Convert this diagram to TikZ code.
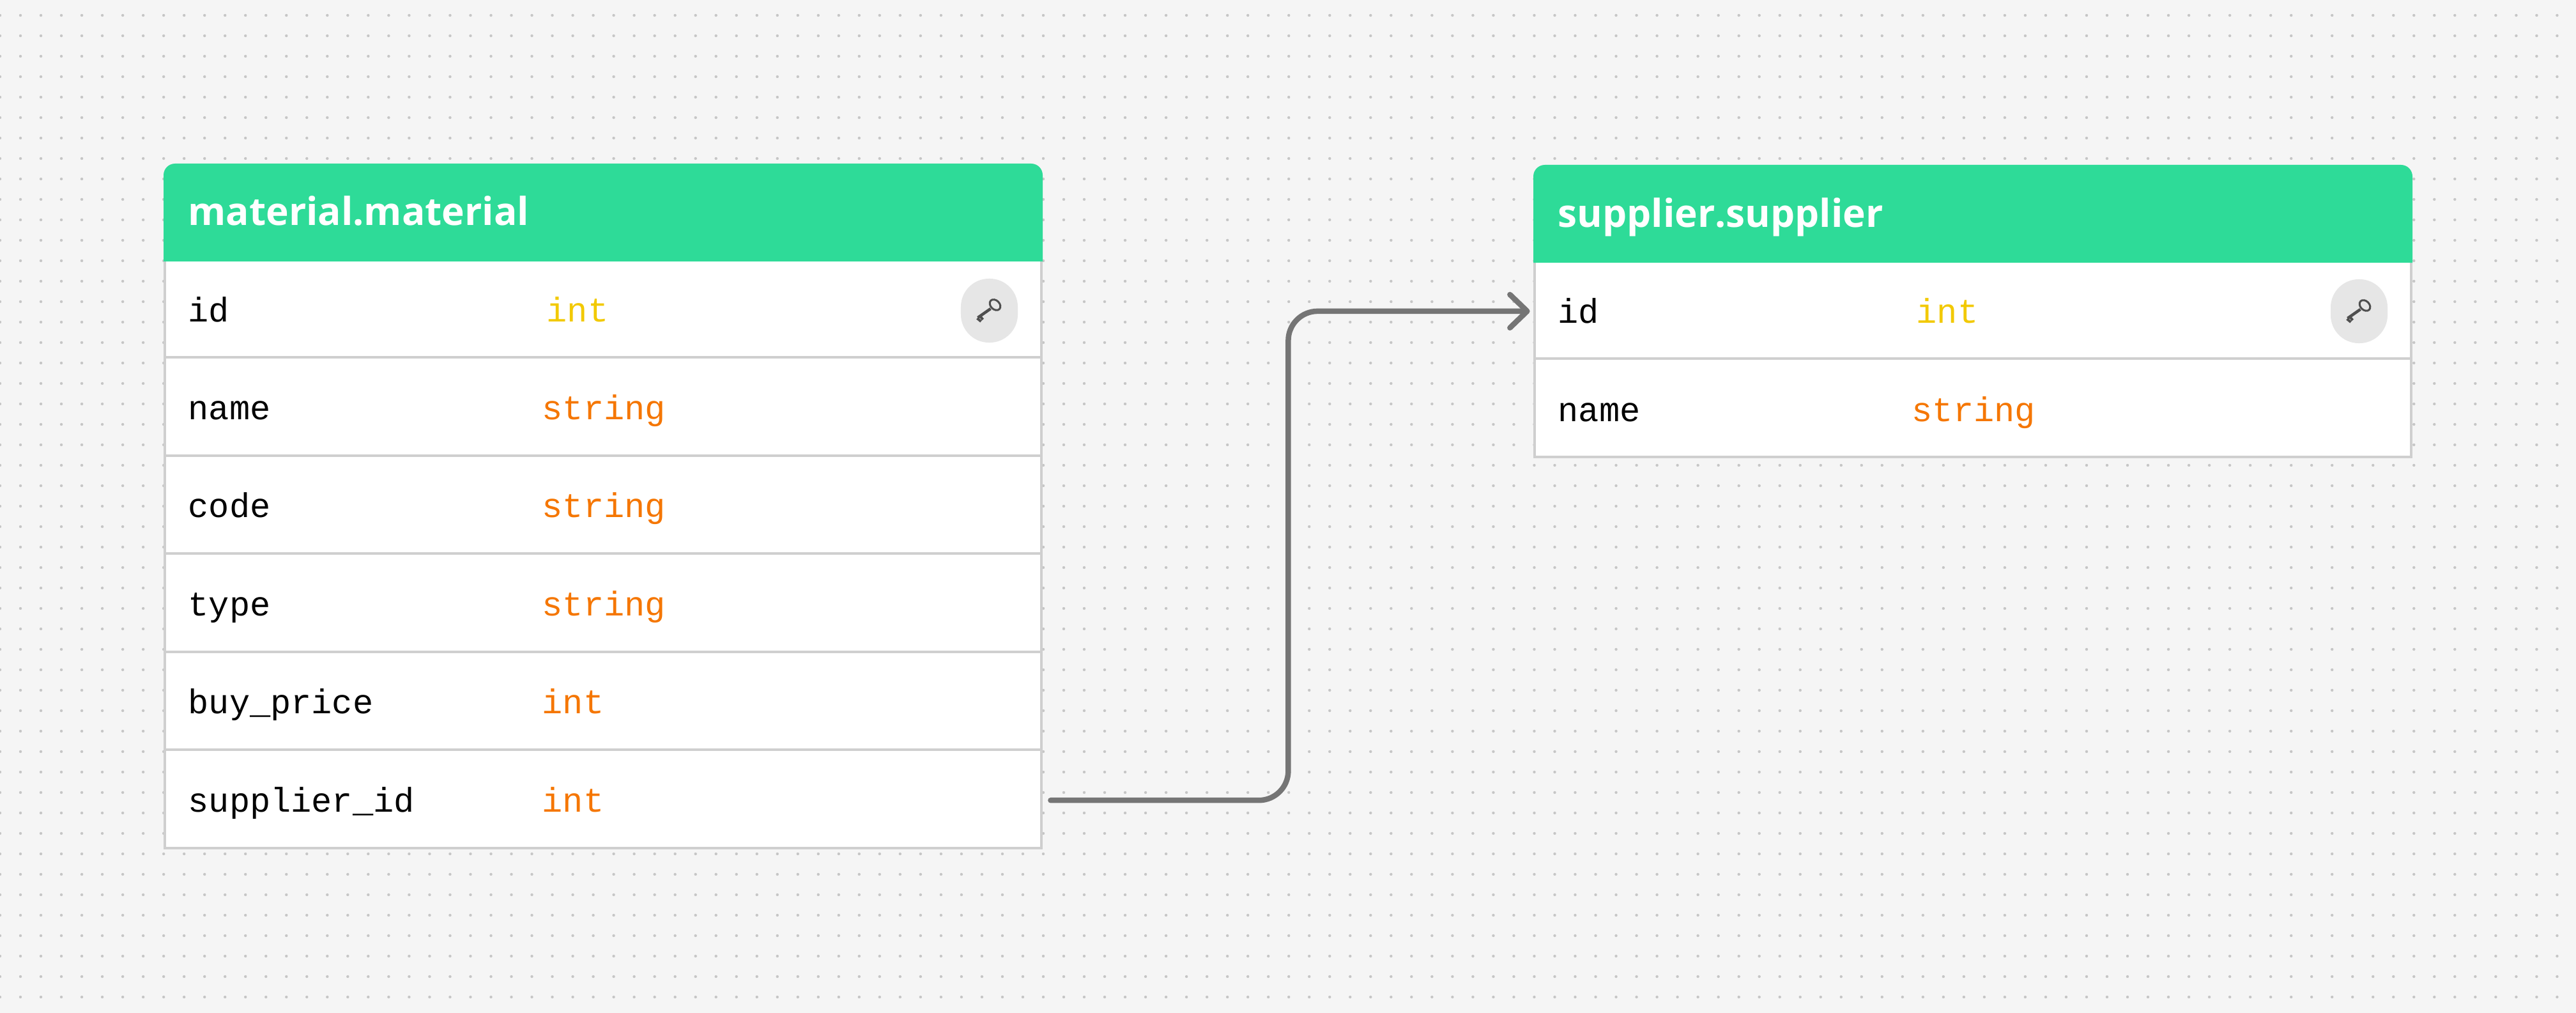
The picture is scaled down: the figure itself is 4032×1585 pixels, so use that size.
\documentclass[tikz,border=0pt]{standalone}
\usepackage{fontspec}
\setmainfont{Liberation Mono}
\newfontfamily\headfont{Open Sans}
\usetikzlibrary{arrows.meta}
\definecolor{pagebg}{HTML}{F5F5F5}
\definecolor{griddot}{HTML}{C6C6C6}
\definecolor{headgreen}{HTML}{2EDB98}
\definecolor{rowline}{HTML}{CFCFCF}
\definecolor{typeorange}{HTML}{F57600}
\definecolor{typeyellow}{HTML}{F2C900}
\definecolor{connline}{HTML}{757575}
\definecolor{keygrey}{HTML}{E6E6E6}
\definecolor{keydark}{HTML}{4F4F4F}
\tikzset{
  griddots/.style={griddot, line width=.044cm, line cap=round, dash pattern=on 0pt off .32cm},
  tablerow/.style={draw=rowline, line width=.04cm, fill=white, minimum width=13.72cm,
    minimum height=1.536cm, inner sep=0, outer sep=0},
  headtext/.style={anchor=base west, inner sep=0, text=white,
    font=\headfont\bfseries\fontsize{17.15}{20}\selectfont},
  fieldtext/.style={anchor=base west, inner sep=0, text=black,
    font=\fontsize{15.25}{18}\selectfont},
  typetext/.style={fieldtext, text=#1},
  keypill/.style={fill=keygrey, minimum width=.89cm, minimum height=1cm, inner sep=0,
    rounded corners=.44cm},
  conn/.style={draw=connline, line width=.085cm, line cap=round, rounded corners=.46cm,
    -{Straight Barb[length=.27cm,width=.52cm,line cap=round,round]}},
  keyicon/.pic={
    \draw[keydark, line width=.03cm] (9,-9) ellipse [x radius=9.5, y radius=7, rotate=-45];
    \draw[keydark, line width=.045cm] (2,-3) -- (-18,11);
    \draw[keydark, line width=.04cm] (-15,8) -- (-10,14) (-19,12) -- (-13,17);
  }
}
\begin{document}
\begin{tikzpicture}[x=.01cm, y=-.01cm]
\useasboundingbox (0,0) rectangle (4032,1585);
\fill[pagebg] (0,0) rectangle (4032,1585);
% Dots of the page grid
\begin{scope}
\clip (0,0) rectangle (4032,1585);
\foreach \y in {24,56,...,1585}
  \draw[griddots] (0,\y) -- (4040,\y);
\end{scope}
% Rows of the material table
\foreach \i/\fname/\ftype in {1/id/int,2/name/string,3/code/string,4/type/string,5/buy\_price/int,6/supplier\_id/int}
{
  \node[tablerow] (m\i) at (944,{1327-(6.5-\i)*153.6}) {};
  \node[fieldtext] (mn\i) at (294,{1270-(6-\i)*153.4}) {\fname};
  \ifnum\i=1
    \node[typetext=typeyellow] (mt\i) at (855,{1270-(6-\i)*153.4}) {\ftype};
  \else
    \node[typetext=typeorange] (mt\i) at (848,{1270-(6-\i)*153.4}) {\ftype};
  \fi
}
% Rows of the supplier table
\foreach \i/\fname/\ftype in {1/id/int,2/name/string}
{
  \node[tablerow] (s\i) at (3088,{715-(2.5-\i)*153.4}) {};
  \node[fieldtext] (sn\i) at (2438,{659-(2-\i)*153.4}) {\fname};
  \ifnum\i=1
    \node[typetext=typeyellow] (st\i) at (2999,{659-(2-\i)*153.4}) {\ftype};
  \else
    \node[typetext=typeorange] (st\i) at (2992,{659-(2-\i)*153.4}) {\ftype};
  \fi
}
% Headers, only the top corners are round
\fill[headgreen, rounded corners=.18cm] (256,409) -- (256,256) -- (1632,256) -- (1632,300) [sharp corners] -- (1632,409) -- cycle;
\fill[headgreen, rounded corners=.18cm] (2400,411) -- (2400,258) -- (3776,258) -- (3776,300) [sharp corners] -- (3776,411) -- cycle;
\node[headtext] (mhead) at (294,353) {material.material};
\node[headtext] (shead) at (2438,355) {supplier.supplier};
% Key marks
\node[keypill] (mkey) at (1548.5,486) {};
\node[keypill] (skey) at (3692.5,487) {};
\pic at (mkey) {keyicon};
\pic at (skey) {keyicon};
% The link
\draw[conn] ([xshift=.14cm,yshift=-.02cm]m6.east) -- ++(372,0) |- ([xshift=-.07cm,yshift=-.02cm]s1.west);
\end{tikzpicture}
\end{document}
